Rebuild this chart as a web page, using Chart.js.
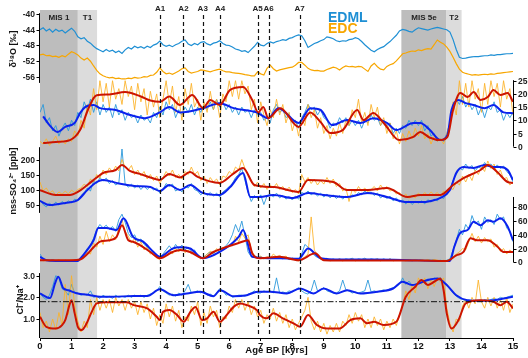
<!DOCTYPE html>
<html>
<head>
<meta charset="utf-8">
<script src="https://cdn.jsdelivr.net/npm/chart.js@4.4.1/dist/chart.umd.min.js"></script>
<style>
  body { margin: 0; background: #fff; }
  #wrap { width: 528px; height: 358px; }
</style>
</head>
<body>
<div id="wrap"><canvas id="mycanvas"></canvas></div>
<script>
// ---- data (ages in kyr BP) ----
var rawAge = [];
for (var i = 0; i <= 150; i++) rawAge.push(i / 10);

var edmlO18 = [
  -44.0,-43.5,-44.3,-43.8,-44.6,-43.9,-44.4,-44.1,-44.8,-44.2,
  -43.6,-44.4,-45.8,-46.3,-46.0,-46.9,-47.4,-48.2,-48.8,-49.2,
  -49.6,-49.0,-49.5,-49.2,-49.8,-49.4,-50.0,-49.1,-48.5,-48.9,
  -48.2,-48.6,-48.3,-48.7,-48.2,-48.5,-47.9,-47.6,-46.9,-47.8,
  -48.2,-47.9,-48.3,-47.8,-47.5,-46.9,-46.6,-47.6,-48.0,-47.5,
  -47.8,-47.2,-47.0,-47.6,-47.9,-47.4,-47.2,-46.8,-47.5,-47.9,
  -48.0,-48.4,-48.9,-49.1,-49.5,-49.3,-49.8,-49.0,-48.2,-47.2,
  -47.9,-48.1,-47.5,-47.1,-47.4,-47.0,-46.8,-46.5,-46.7,-46.2,
  -46.0,-45.6,-45.3,-45.5,-46.8,-48.5,-48.0,-47.5,-47.2,-46.8,
  -46.5,-45.8,-46.0,-46.3,-46.8,-47.0,-46.8,-46.9,-46.5,-46.4,
  -46.0,-46.3,-47.0,-47.8,-48.5,-49.2,-49.6,-49.0,-48.6,-48.3,
  -47.6,-47.0,-46.2,-45.4,-44.3,-43.9,-44.1,-44.4,-44.6,-44.0,
  -43.5,-43.7,-43.9,-44.1,-43.8,-43.6,-43.4,-43.6,-43.8,-44.0,
  -44.6,-46.5,-49.0,-51.0,-51.3,-51.2,-51.0,-50.9,-50.8,-50.8,
  -50.7,-50.6,-50.6,-50.4,-50.5,-50.3,-50.3,-50.2,-50.1,-50.1,
  -50.0];
var edcO18 = [
  -50.4,-50.2,-50.6,-50.5,-50.8,-50.7,-51.0,-50.6,-50.9,-50.2,
  -49.6,-49.9,-50.4,-51.2,-51.7,-51.2,-52.0,-53.2,-54.3,-55.2,
  -55.7,-56.0,-56.2,-56.1,-56.4,-56.3,-56.5,-56.5,-56.3,-56.4,
  -56.1,-56.3,-56.2,-55.9,-56.0,-55.6,-55.5,-54.8,-53.7,-54.6,
  -55.2,-55.0,-55.3,-54.9,-54.5,-53.9,-53.7,-54.6,-55.0,-54.8,
  -54.6,-54.2,-54.3,-54.5,-54.7,-54.4,-54.2,-54.0,-54.4,-54.7,
  -54.7,-54.9,-55.0,-55.1,-55.2,-55.4,-55.5,-55.7,-55.7,-54.7,
  -55.2,-55.5,-53.8,-53.0,-53.9,-54.5,-54.2,-54.0,-53.8,-53.6,
  -53.5,-53.0,-52.3,-52.3,-53.0,-53.8,-54.2,-54.4,-54.3,-54.5,
  -54.5,-54.1,-53.8,-53.5,-53.7,-54.2,-53.6,-53.2,-53.4,-53.3,
  -53.5,-53.3,-53.4,-54.0,-54.6,-53.2,-52.5,-53.4,-54.0,-54.2,
  -53.3,-52.9,-52.6,-51.9,-51.0,-50.1,-49.9,-49.6,-49.4,-49.5,
  -49.1,-49.3,-49.0,-48.8,-48.9,-47.8,-46.6,-47.2,-47.6,-48.4,
  -49.5,-51.0,-52.6,-54.0,-54.8,-55.1,-55.3,-55.5,-55.4,-55.5,
  -55.4,-55.3,-55.4,-55.2,-55.3,-55.1,-55.0,-54.9,-54.8,-54.7,
  -54.6];

// panel 2 (right axis 0-25)
var p2EdmlRaw = [
  13,16,9,11,6,8,4,7,9,6, 10,8,13,11,17,14,18,13,17,12,
  16,13,15,11,16,12,14,10,13,11, 12,9,12,10,11,9,13,11,15,12,
  17,14,16,11,14,12,15,13,16,12, 15,13,16,14,17,14,18,15,17,14,
  16,13,15,12,15,13,14,11,14,12, 13,10,11,9,14,16,13,14,11,12,
  9,10,7,11,13,16,14,15,12,14, 11,10,7,9,8,11,9,11,8,10,
  8,10,7,10,9,12,10,11,8,10, 8,9,5,7,5,8,7,10,8,10,
  8,10,6,8,4,5,2,3,2,5, 9,16,18,16,19,15,17,14,16,12,
  15,11,15,14,17,13,14,10,13,11, 13];
var p2EdcRaw = [
  2,1,3,0.5,2,4,1,2.5,1,3, 2,6,4,10,7,16,12,22,14,25,
  17,24,15,25,18,22,16,25,19,23, 14,24,17,22,12,21,15,20,11,18,
  25,16,23,13,19,10,22,16,24,15, 18,10,17,13,21,14,18,11,20,17,
  25,19,25,18,25,20,23,14,18,9, 17,12,8,14,11,18,12,16,9,13,
  6,10,4,11,8,16,11,14,7,11, 5,8,3,7,4,9,5,10,8,14,
  11,18,9,13,8,16,11,15,8,11, 5,9,3,6,1,5,2,6,3,7,
  4,8,3,5,1,4,2,3,1,5, 9,17,12,25,16,24,15,25,18,22,
  13,24,16,25,19,24,15,25,18,22, 12];
var p2EdmlSmooth = [[0.1,11.5],[0.3,8.2],[0.55,5.6],[0.8,7.5],[1.1,9],[1.27,12.7],[1.43,15],[1.7,15.8],[1.9,14.6],[2.4,13.9],[2.86,12],[3.33,10.8],[3.8,13],[4.1,15],[4.44,13],[5.17,14.6],[5.7,16.5],[6.14,14.6],[6.87,13],[7.24,10.8],[7.56,14.6],[8.2,9],[8.57,14.6],[8.9,13.9],[9.26,8.2],[9.74,10.1],[10.16,9],[10.57,10.8],[11,9],[11.3,6.3],[11.84,9],[12.06,9],[12.35,6.5],[12.7,2.5],[12.92,4.4],[13.05,13.9],[13.27,17.7],[13.5,16.5],[13.75,15.8],[14.1,14.6],[14.38,15.8],[14.7,13],[15,12.7]];
var p2EdcSmooth = [[0.1,1.4],[0.5,1.8],[0.95,2.5],[1.27,6.3],[1.52,14],[1.7,18.4],[1.8,19.5],[2.2,19.8],[2.7,20.7],[3.2,19],[3.5,17.5],[3.8,17],[4.1,19],[4.44,15.8],[4.83,19.6],[5.17,14.6],[5.4,17.7],[5.7,15.8],[6.03,21.5],[6.44,22.6],[6.73,17.7],[6.92,13],[7.08,15],[7.24,10.8],[7.62,14.6],[8.2,7.5],[8.57,13],[8.9,9.3],[9.2,5.2],[9.6,6.3],[10.06,13.9],[10.26,10.1],[10.57,12.8],[10.9,9],[11.4,2.5],[11.84,3.7],[12.06,5.6],[12.35,3.5],[12.7,2.5],[12.92,3.7],[13.1,13.9],[13.33,20.3],[13.56,18.8],[13.75,20.7],[13.97,17.7],[14.2,18.8],[14.38,21.5],[14.6,19.6],[14.83,20.3],[15,17]];

// panel 3 nss-SO4 [ppb]
var p3EdmlRaw = [
  65,50,42,55,45,58,48,60,52,62, 55,68,62,80,90,105,95,128,120,140,
  128,138,120,130,115,122,235,118,108,118, 105,115,100,112,100,110,98,105,88,100,
  120,110,118,95,102,92,110,105,120,100, 95,82,92,80,90,78,88,75,92,100,
  110,120,140,150,170,130,90,60,80,70, 82,50,78,85,75,88,72,80,68,76,
  65,78,68,90,85,95,82,90,78,88, 75,85,72,82,70,80,68,78,70,82,
  78,90,82,95,85,92,80,88,72,80, 70,78,62,72,58,65,52,62,50,60,
  55,62,52,66,58,68,62,75,70,90, 100,130,150,172,165,185,170,180,162,175,
  170,190,178,185,168,182,170,178,160,150, 125];
var p3EdcRaw = [
  125,95,105,88,96,80,92,84,95,85, 98,90,100,105,118,110,135,125,150,138,
  165,150,172,158,178,162,200,175,165,180, 150,165,145,160,135,150,130,145,120,140,
  160,145,165,140,150,135,160,150,175,150, 160,130,145,120,140,125,135,115,145,140,
  160,150,175,165,200,170,150,130,110,125, 105,120,100,115,105,120,100,110,95,108,
  90,100,85,150,125,140,120,135,115,130, 118,140,120,135,110,120,95,105,60,100,
  90,110,95,105,90,100,110,95,115,100, 110,95,100,85,90,75,85,70,80,72,
  88,78,90,80,92,82,90,78,95,85, 105,100,125,115,145,125,150,130,165,150,
  175,160,195,170,185,150,165,135,140,115, 125];
var p3EdmlSmooth = [[0,62],[0.3,48],[0.8,55],[1.2,65],[1.5,98],[1.8,125],[2.0,132],[2.5,120],[3.0,112],[3.5,108],[3.8,95],[4.1,115],[4.44,98],[4.76,115],[5.17,88],[5.7,82],[6.03,108],[6.44,155],[6.67,75],[6.98,75],[7.4,82],[8.03,72],[8.5,88],[9.0,82],[9.74,75],[10.4,88],[11.0,75],[11.65,58],[12.06,58],[12.4,62],[12.7,72],[13.0,98],[13.2,155],[13.43,175],[13.75,172],[14.1,182],[14.38,175],[14.6,175],[14.83,165],[15,132]];
var p3EdcSmooth = [[0,98],[0.5,82],[0.95,82],[1.2,92],[1.5,115],[1.8,140],[2.0,155],[2.4,165],[2.6,182],[2.85,162],[3.17,152],[3.5,140],[3.8,132],[4.1,152],[4.44,140],[4.76,158],[5.0,142],[5.7,122],[6.1,150],[6.44,172],[6.8,115],[7.43,108],[8.2,92],[8.5,132],[9.3,125],[9.74,98],[10.4,98],[11.0,105],[11.65,75],[12.06,82],[12.7,82],[13.1,115],[13.43,138],[13.97,165],[14.2,182],[14.5,158],[14.83,125],[15,122]];

// panel 4 (right axis 0-80)
var p4EdmlRaw = [
  12,5,3,2,4,2,3,1,3,2, 3,2,3,6,12,20,25,35,48,55,
  50,54,48,52,45,62,70,58,42,36, 40,30,34,26,22,16,14,9,6,12,
  18,24,18,26,20,25,18,22,16,18, 10,6,8,12,15,12,18,14,20,24,
  30,40,55,44,60,38,15,8,10,6, 8,5,7,5,8,6,7,5,7,4,
  6,4,5,12,26,22,18,10,7,5, 4,6,3,5,3,5,3,5,4,6,
  3,5,4,6,3,5,4,5,3,5, 3,5,3,4,3,4,3,4,2,4,
  3,4,2,4,3,4,2,3,2,3, 5,18,32,48,40,55,48,68,56,60,
  48,66,58,62,55,70,62,66,50,45, 30];
var p4EdcRaw = [
  5,2,4,1,3,2,4,1,3,2, 4,2,3,6,9,15,12,28,22,38,
  26,45,30,40,33,50,62,45,38,28, 35,22,30,18,22,12,16,6,4,10,
  14,18,12,20,15,22,14,18,12,15, 8,5,8,12,16,14,20,16,22,20,
  26,24,38,30,42,35,40,18,10,6, 9,5,8,6,12,8,10,7,9,5,
  6,3,2,5,8,12,66,18,10,5, 3,5,2,4,3,5,2,4,3,5,
  2,4,3,5,2,4,3,5,2,4, 3,5,2,4,3,4,2,4,3,4,
  2,4,3,4,2,4,3,2,3,2, 4,8,12,15,20,18,30,42,30,38,
  28,36,30,34,22,26,16,20,12,18, 14];
var p4EdmlSmooth = [[0,8],[0.2,3],[0.5,2],[1.2,2],[1.27,5],[1.5,18],[1.7,32],[1.85,50],[2.1,50],[2.43,47],[2.65,64],[2.95,37],[3.27,30],[3.6,15],[3.8,8],[4.2,20],[4.44,22],[4.76,20],[5.17,6],[5.7,15],[6.3,37],[6.44,47],[6.73,8],[7.24,6],[7.6,6],[8.2,5],[8.5,20],[8.9,6],[9.5,4],[10.5,4],[11.5,3.5],[12.7,2],[13.0,2],[13.14,23],[13.33,43],[13.56,47],[13.75,59],[13.97,54],[14.2,61],[14.38,59],[14.6,64],[14.83,52],[15,32]];
var p4EdcSmooth = [[0,3],[0.5,3],[1.0,3],[1.27,4],[1.5,12],[1.7,22],[1.9,30],[2.2,32],[2.43,37],[2.6,54],[2.8,32],[2.95,30],[3.17,25],[3.5,15],[3.8,6],[4.2,15],[4.44,18],[4.76,15],[5.17,6],[5.5,15],[6.3,28],[6.6,32],[6.73,13],[6.98,6],[7.6,8],[8.2,3],[8.73,13],[9.0,3],[10,2.5],[11,2.5],[12,2.5],[12.9,2],[13.2,10],[13.43,15],[13.65,35],[13.86,32],[14.2,32],[14.5,23],[14.7,15],[15,15]];

// panel 5 Cl-/Na+
var p5EdmlRaw = [
  2.2,2.0,1.9,2.1,2.5,3.0,2.9,2.4,2.3,2.1, 2.6,2.2,2.2,2.1,2.15,2.1,2.3,2.0,2.05,1.95,
  2.1,2.0,2.05,1.95,2.1,2.0,2.05,2.0,2.1,2.0, 2.1,2.05,2.1,2.0,2.1,2.15,2.2,2.3,2.5,2.3,
  2.2,2.1,2.15,2.05,2.2,2.1,2.3,2.6,2.2,2.25, 2.3,2.2,2.3,2.1,2.15,2.05,2.2,2.4,2.3,2.1,
  2.15,2.0,2.05,2.1,2.1,2.05,2.15,2.2,2.3,2.2, 2.2,2.3,2.25,2.3,2.2,2.9,2.2,2.25,2.2,2.3,
  2.25,2.35,2.45,2.3,2.2,2.15,2.3,2.8,2.3,2.35, 2.45,2.3,2.25,2.2,2.2,2.3,2.8,2.35,2.3,2.2,
  2.25,2.2,2.25,2.3,2.8,2.25,2.3,2.25,2.3,2.35, 2.3,2.4,2.45,2.5,2.6,2.9,2.6,2.75,2.55,2.6,
  2.65,2.7,2.75,2.85,2.8,2.9,2.85,2.9,2.7,2.6, 2.4,2.2,2.05,1.95,1.9,1.85,1.88,1.85,1.82,1.85,
  1.8,1.9,1.85,1.9,1.95,1.9,2.0,1.95,2.0,2.05, 2.1];
var p5EdcRaw = [
  1.3,0.6,0.9,0.4,1.0,0.5,1.3,0.7,2.6,1.2, 3.0,1.6,0.9,0.4,0.9,0.6,1.9,1.2,2.0,1.4,
  1.9,1.5,1.9,1.3,2.0,1.6,1.9,1.4,1.9,1.5, 1.8,1.2,1.8,1.3,1.7,1.0,1.5,0.7,1.2,0.8,
  1.7,1.1,1.6,0.9,1.4,0.6,1.1,0.9,1.6,1.2, 1.8,0.7,1.3,0.8,1.6,1.1,1.4,0.6,1.1,1.0,
  1.6,1.3,1.9,1.5,1.9,1.4,1.8,1.2,1.6,1.1, 1.4,0.8,1.2,1.0,1.5,0.9,1.3,0.8,1.2,0.6,
  1.0,0.5,0.8,1.1,1.4,2.0,0.9,0.5,0.9,0.4, 0.8,0.3,0.7,0.4,0.8,0.4,0.9,0.7,1.2,0.8,
  1.3,0.9,1.2,0.6,1.0,0.6,1.1,0.7,1.0,0.5, 0.9,0.6,1.0,0.7,1.2,1.6,2.3,1.9,2.6,2.2,
  2.9,2.6,2.9,2.4,2.8,2.5,2.9,2.7,2.9,1.5, 0.8,0.4,1.0,0.9,1.6,1.9,1.5,2.0,1.7,2.8,
  1.8,1.5,2.0,1.6,2.0,1.5,1.9,1.4,2.0,1.3, 1.7];
var p5EdmlSmooth = [[0,2.18],[0.32,1.97],[0.48,2.66],[0.58,2.95],[0.74,2.42],[0.9,2.33],[1.16,2.19],[1.59,2.1],[1.9,2.03],[2.3,2.03],[2.97,2.06],[3.4,2.06],[3.8,2.37],[4.23,2.1],[4.66,2.18],[5.08,2.26],[5.5,2.05],[5.71,2.33],[6.14,2.05],[6.56,2.1],[6.9,2.26],[7.3,2.26],[7.83,2.18],[8.25,2.41],[8.67,2.18],[9.0,2.41],[9.4,2.18],[9.74,2.33],[10.16,2.18],[10.7,2.26],[11.2,2.41],[11.5,2.72],[11.8,2.57],[12.3,2.8],[12.6,2.87],[12.9,2.57],[13.2,2.1],[13.55,1.87],[13.97,1.84],[14.38,1.87],[15,2.03]];
var p5EdcSmooth = [[0,1.1],[0.2,0.64],[0.5,0.56],[0.7,0.72],[0.8,0.95],[0.95,1.72],[1.0,1.87],[1.1,1.26],[1.2,0.64],[1.32,0.49],[1.48,0.8],[1.64,1.33],[1.8,1.72],[2.1,1.77],[2.75,1.77],[2.97,1.64],[3.4,1.49],[3.7,1.1],[3.8,0.95],[3.9,1.33],[4.1,1.41],[4.35,1.18],[4.56,0.87],[4.77,1.33],[4.93,1.56],[5.14,0.95],[5.3,1.03],[5.5,1.33],[5.71,0.87],[5.93,1.2],[6.14,1.56],[6.35,1.72],[6.56,1.64],[6.88,1.41],[6.98,1.18],[7.19,1.03],[7.4,1.26],[7.7,1.03],[8.04,0.8],[8.25,0.64],[8.5,1.18],[8.78,0.72],[9.1,0.56],[9.5,0.56],[9.84,0.95],[10.16,1.03],[10.37,0.8],[10.6,0.87],[10.9,0.72],[11.3,0.87],[11.6,2.03],[11.9,2.49],[12.1,2.8],[12.3,2.57],[12.5,2.72],[12.7,2.87],[12.8,2.33],[12.9,1.26],[13.05,0.56],[13.27,0.95],[13.5,1.72],[13.97,1.87],[14.38,1.8],[14.6,1.64],[14.8,1.8],[15,1.49]];

var events = [["A1",3.81],["A2",4.55],["A3",5.16],["A4",5.71],["A5",6.9],["A6",7.25],["A7",8.23]];
var periods = [["MIS 1",0,1.2,"#bdbdbd"],["T1",1.2,1.81,"#dcdcdc"],["MIS 5e",11.46,12.89,"#bdbdbd"],["T2",12.89,13.37,"#dcdcdc"]];
var clNaRef = 1.8;
var xTicks = [0,1,2,3,4,5,6,7,8,9,10,11,12,13,14,15];
var o18Ticks = [-40,-44,-48,-52,-56];
var p2Ticks = [0,5,10,15,20,25];
var so4Ticks = [50,100,150,200];
var p4Ticks = [0,20,40,60,80];
var clNaTicks = [1,2,3];

// ---- layout helpers ----
var TOP = 10, BOT = 338;
var FONT = "'Liberation Sans', Arial, sans-serif";
function raw(vals) { return vals.map(function(v, i){ return {x: rawAge[i], y: v}; }); }
function pairs(p) { return p.map(function(a){ return {x: a[0], y: a[1]}; }); }

// per-axis drawing info (kept outside the chart options so Chart.js does not resolve it)
var axisInfo = {
  yO: { side: 'left',  ticks: o18Ticks,  seg: [-39.8, -57.5] },
  yD: { side: 'right', ticks: p2Ticks,   seg: [25.2, 0] },
  yS: { side: 'left',  ticks: so4Ticks,  seg: [241, 22] },
  yC: { side: 'right', ticks: p4Ticks,   seg: [95, 0] },
  yR: { side: 'left',  ticks: clNaTicks, seg: [3.12, -1], dec: 1 }
};

// y scale whose values v1,v2 fall on pixel rows p1,p2 (panels share one chart area)
function yAxis(v1, p1, v2, p2) {
  var k = (v1 - v2) / (p2 - p1);
  return { type: 'linear', display: false, min: v2 - (BOT - p2) * k, max: v1 + (p1 - TOP) * k };
}

function line(data, axis, color, width, order, smooth) {
  return { data: data, yAxisID: axis, borderColor: color, borderWidth: width, pointRadius: 0,
           fill: false, order: order, tension: smooth ? 0.4 : 0, cubicInterpolationMode: smooth ? 'monotone' : 'default' };
}

var LBLUE = '#2b98da', ORANGE = 'rgba(251,178,40,0.95)', BLUE = '#0b22ee', RED = '#cc1400';

var chartdata = {
  datasets: [
    line(raw(edmlO18), 'yO', '#1e8fd4', 1.2, 1),
    line(raw(edcO18), 'yO', '#f7a600', 1.2, 1),
    line(pairs(p2EdcSmooth), 'yD', RED, 2, 1, true),
    line(pairs(p2EdmlSmooth), 'yD', BLUE, 2, 2, true),
    line(raw(p2EdcRaw), 'yD', ORANGE, 0.9, 3),
    line(raw(p2EdmlRaw), 'yD', LBLUE, 0.9, 4),
    line(pairs(p3EdcSmooth), 'yS', RED, 2, 1, true),
    line(pairs(p3EdmlSmooth), 'yS', BLUE, 2, 2, true),
    line(raw(p3EdcRaw), 'yS', ORANGE, 0.9, 3),
    line(raw(p3EdmlRaw), 'yS', LBLUE, 0.9, 4),
    line(pairs(p4EdcSmooth), 'yC', RED, 2, 1, true),
    line(pairs(p4EdmlSmooth), 'yC', BLUE, 2, 2, true),
    line(raw(p4EdcRaw), 'yC', ORANGE, 0.9, 3),
    line(raw(p4EdmlRaw), 'yC', LBLUE, 0.9, 4),
    line(pairs(p5EdcSmooth), 'yR', RED, 2, 1, true),
    line(pairs(p5EdmlSmooth), 'yR', BLUE, 2, 2, true),
    line(raw(p5EdcRaw), 'yR', ORANGE, 0.9, 3),
    line(raw(p5EdmlRaw), 'yR', LBLUE, 0.9, 4)
  ]
};

var decor = {
  id: 'decor',
  beforeDatasetsDraw: function(chart) {
    var ctx = chart.ctx, a = chart.chartArea, x = chart.scales.x;
    ctx.save();
    periods.forEach(function(p){
      ctx.fillStyle = p[3];
      var x1 = x.getPixelForValue(p[1]), x2 = x.getPixelForValue(p[2]);
      ctx.fillRect(x1, a.top, x2 - x1, a.bottom - a.top);
    });
    ctx.restore();
  },
  afterDatasetsDraw: function(chart) {
    var ctx = chart.ctx, a = chart.chartArea, x = chart.scales.x;
    ctx.save();
    // event lines
    ctx.strokeStyle = '#111'; ctx.lineWidth = 1.2; ctx.setLineDash([4, 3]);
    events.forEach(function(e){
      var px = Math.round(x.getPixelForValue(e[1])) + 0.5;
      ctx.beginPath(); ctx.moveTo(px, 15); ctx.lineTo(px, 335); ctx.stroke();
    });
    // Cl/Na reference line
    var yr = chart.scales.yR.getPixelForValue(clNaRef);
    ctx.setLineDash([6, 2, 1.5, 2]); ctx.lineWidth = 1;
    ctx.beginPath(); ctx.moveTo(a.left, yr); ctx.lineTo(a.right, yr); ctx.stroke();
    ctx.setLineDash([]);
    // y axes: partial axis lines, tick marks and labels
    ctx.strokeStyle = '#000'; ctx.fillStyle = '#222'; ctx.lineWidth = 1;
    ctx.font = 'bold 8.5px ' + FONT; ctx.textBaseline = 'middle';
    Object.keys(axisInfo).forEach(function(id){
      var s = chart.scales[id], info = axisInfo[id], left = info.side === 'left';
      var px = left ? a.left - 0.5 : a.right + 0.5, dir = left ? -1 : 1;
      ctx.beginPath();
      ctx.moveTo(px, s.getPixelForValue(info.seg[0]));
      ctx.lineTo(px, Math.min(s.getPixelForValue(info.seg[1]), a.bottom));
      ctx.stroke();
      ctx.textAlign = left ? 'right' : 'left';
      info.ticks.forEach(function(v){
        var py = Math.round(s.getPixelForValue(v)) + 0.5;
        ctx.beginPath(); ctx.moveTo(px, py); ctx.lineTo(px + 3 * dir, py); ctx.stroke();
        ctx.fillText(info.dec ? v.toFixed(info.dec) : String(v), px + 4.5 * dir, py);
      });
    });
    // labels
    ctx.fillStyle = '#222'; ctx.textAlign = 'center'; ctx.textBaseline = 'middle';
    ctx.font = 'bold 8px ' + FONT;
    events.forEach(function(e){ ctx.fillText(e[0], x.getPixelForValue(e[1]), 9); });
    periods.forEach(function(p){
      ctx.fillText(p[0], (x.getPixelForValue(p[1]) + x.getPixelForValue(p[2])) / 2, 18);
    });
    ctx.textAlign = 'left';
    ctx.font = 'bold 14px ' + FONT;
    ctx.fillStyle = '#1e8fd4'; ctx.fillText('EDML', 328, 18.5);
    ctx.fillStyle = '#f7a600'; ctx.fillText('EDC', 328, 29.5);
    // left axis titles
    ctx.fillStyle = '#111'; ctx.font = 'bold 9px ' + FONT; ctx.textAlign = 'center';
    [['δ¹⁸O [‰]', 14, 49], ['nss-SO₄²⁻ [ppb]', 14, 181], ['Cl⁻/Na⁺', 21, 300]].forEach(function(t){
      ctx.save(); ctx.translate(t[1], t[2]); ctx.rotate(-Math.PI / 2); ctx.fillText(t[0], 0, 0); ctx.restore();
    });
    ctx.restore();
  }
};

var ctx = document.getElementById('mycanvas');
var LineGraph = new Chart(ctx, {
  type: 'line',
  data: chartdata,
  options: {
    responsive: true, maintainAspectRatio: false, animation: false,
    layout: { padding: { left: 40, right: 15, top: TOP, bottom: 0 } },
    plugins: { legend: { display: false }, tooltip: { enabled: false } },
    scales: {
      x: {
        type: 'linear', min: 0, max: 15,
        afterFit: function(s){ s.height = 20; },
        afterBuildTicks: function(s){ s.ticks = xTicks.map(function(v){ return {value: v}; }); },
        ticks: { autoSkip: false, maxRotation: 0, padding: 0, color: '#111', font: {family: FONT, size: 9.5, weight: 'bold'} },
        grid: { drawOnChartArea: false, drawTicks: true, tickLength: 3, color: '#000' },
        border: { display: true, color: '#000', width: 1 },
        title: { display: true, text: 'Age BP [kyrs]', color: '#111', padding: {top: 0, bottom: 2},
                 font: {family: FONT, size: 9.5, weight: 'bold'} }
      },
      yO: yAxis(-40, 14, -56, 77),
      yD: yAxis(25, 80.7, 0, 146.7),
      yS: yAxis(200, 159.5, 50, 204.5),
      yC: yAxis(80, 207.3, 0, 262.3),
      yR: yAxis(3, 275.7, 1, 319)
    }
  },
  plugins: [decor]
});
</script>
</body>
</html>
